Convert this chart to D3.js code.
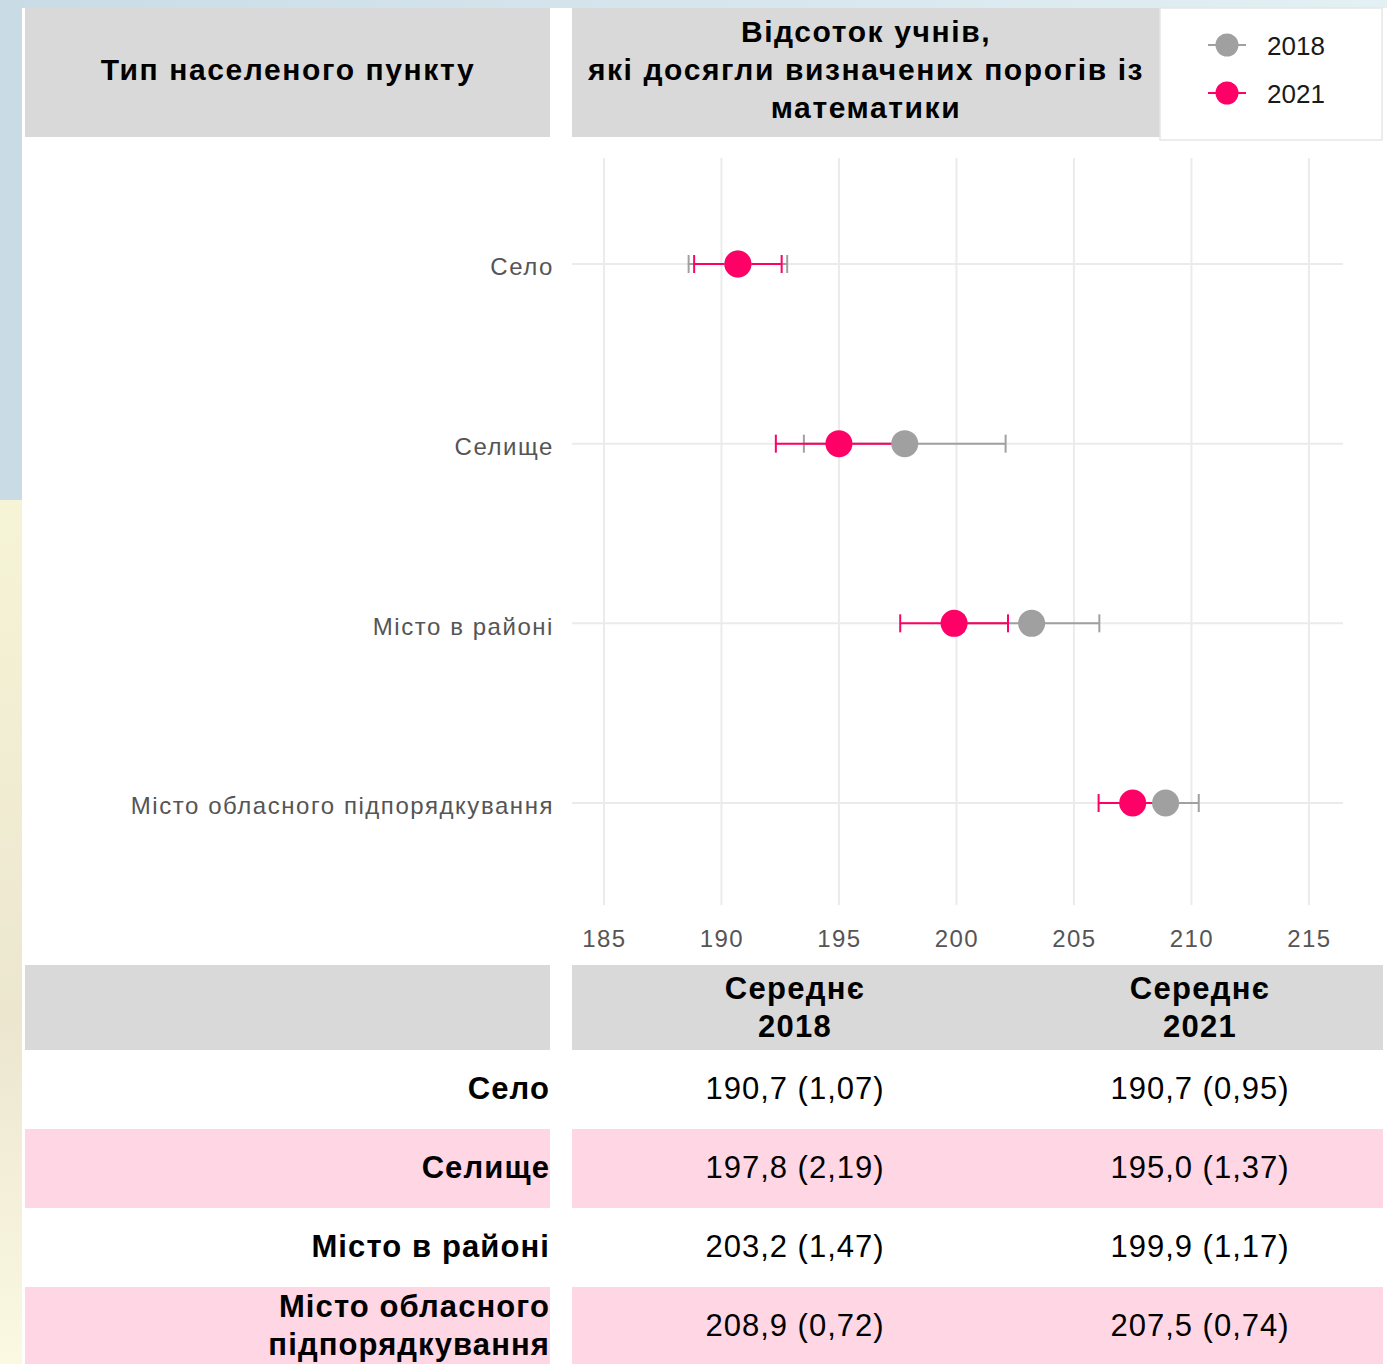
<!DOCTYPE html>
<html>
<head>
<meta charset="utf-8">
<script src="https://cdn.jsdelivr.net/npm/d3@7"></script>
<style>
  body { margin: 0; background: #fff; }
  svg { display: block; font-family: "Liberation Sans", Arial, sans-serif; }
</style>
</head>
<body>
<div id="chart"></div>
<script>
// data
const categories = ['Село', 'Селище', 'Місто в районі', 'Місто обласного підпорядкування'];
const tableLabels = [['Село'], ['Селище'], ['Місто в районі'], ['Місто обласного', 'підпорядкування']];
const years = ['2018', '2021'];
const mean2018 = [190.7, 197.8, 203.2, 208.9];
const se2018 = [1.07, 2.19, 1.47, 0.72];
const mean2021 = [190.7, 195.0, 199.9, 207.5];
const se2021 = [0.95, 1.37, 1.17, 0.74];
const xTicks = [185, 190, 195, 200, 205, 210, 215];

const width = 1387, height = 1364;
const colors = { '2018': '#a0a0a0', '2021': '#ff0066' };
const headGray = '#d9d9d9', rowPink = '#ffd6e4';

const svg = d3.select('#chart').append('svg')
    .attr('width', width)
    .attr('height', height);

// page background (slide look)
const defs = svg.append('defs');
const gTop = defs.append('linearGradient').attr('id', 'topGrad');
gTop.append('stop').attr('offset', '0%').attr('stop-color', '#c9dce6');
gTop.append('stop').attr('offset', '100%').attr('stop-color', '#e3f0f4');
const gLow = defs.append('linearGradient').attr('id', 'lowGrad')
    .attr('x1', 0).attr('x2', 0).attr('y1', 0).attr('y2', 1);
gLow.append('stop').attr('offset', '0%').attr('stop-color', '#f6f4d6');
gLow.append('stop').attr('offset', '60%').attr('stop-color', '#ece6cf');
gLow.append('stop').attr('offset', '100%').attr('stop-color', '#fbf9e2');

svg.append('rect').attr('width', width).attr('height', 8).attr('fill', 'url(#topGrad)');
svg.append('rect').attr('y', 0).attr('width', 22).attr('height', 500).attr('fill', '#c9dce6');
svg.append('rect').attr('y', 500).attr('width', 22).attr('height', height - 500).attr('fill', 'url(#lowGrad)');
svg.append('rect').attr('x', 22).attr('y', 8).attr('width', width - 22).attr('height', height - 8).attr('fill', '#fff');

// header boxes
svg.append('rect').attr('x', 25).attr('y', 8).attr('width', 525).attr('height', 129).attr('fill', headGray);
svg.append('rect').attr('x', 572).attr('y', 8).attr('width', 588).attr('height', 129).attr('fill', headGray);

svg.append('text')
    .attr('x', 288).attr('y', 80)
    .attr('text-anchor', 'middle')
    .attr('font-size', 30).attr('font-weight', 'bold')
    .attr('letter-spacing', 1.6)
    .text('Тип населеного пункту');

const headLines = ['Відсоток учнів,', 'які досягли визначених порогів із', 'математики'];
svg.append('text')
    .attr('text-anchor', 'middle')
    .attr('font-size', 30).attr('font-weight', 'bold')
    .attr('letter-spacing', 1.6)
    .selectAll('tspan')
    .data(headLines)
    .enter()
      .append('tspan')
      .attr('x', 866)
      .attr('y', (d, i) => 42 + i * 38)
      .text(d => d);

// legend
const legend = svg.append('g');
legend.append('rect')
    .attr('x', 1160).attr('y', 8).attr('width', 222).attr('height', 132)
    .attr('fill', '#fff').attr('stroke', '#e6e6e6').attr('stroke-width', 1.5);
const legItem = legend.selectAll('.leg')
    .data(years)
    .enter()
      .append('g')
      .attr('transform', (d, i) => 'translate(1227,' + (45 + i * 48) + ')');
legItem.append('line')
    .attr('x1', -19).attr('x2', 19)
    .attr('stroke', d => colors[d]).attr('stroke-width', 2);
legItem.append('circle')
    .attr('r', 11.5)
    .attr('fill', d => colors[d]);
legItem.append('text')
    .attr('x', 40).attr('y', 10)
    .attr('font-size', 26).attr('fill', '#1a1a1a')
    .text(d => d);

// dot plot
const xScale = d3.scaleLinear()
    .domain([183.64, 216.45])
    .range([572, 1343]);
const yScale = d3.scalePoint()
    .domain(categories)
    .range([158, 909])
    .padding(0.59);

const grid = svg.append('g');
grid.selectAll('.vgrid')
    .data(xTicks)
    .enter()
      .append('line')
      .attr('x1', d => xScale(d)).attr('x2', d => xScale(d))
      .attr('y1', 158).attr('y2', 905)
      .attr('stroke', '#ebebeb').attr('stroke-width', 2);
grid.selectAll('.hgrid')
    .data(categories)
    .enter()
      .append('line')
      .attr('x1', 572).attr('x2', 1343)
      .attr('y1', d => yScale(d)).attr('y2', d => yScale(d))
      .attr('stroke', '#ebebeb').attr('stroke-width', 2);

const xAxis = d3.axisBottom(xScale).tickValues(xTicks).tickSize(0).tickPadding(0);
svg.append('g')
    .attr('transform', 'translate(0,947)')
    .call(xAxis)
    .call(g => g.select('.domain').remove())
    .call(g => g.selectAll('text')
        .attr('font-size', 24).attr('fill', '#555')
        .attr('letter-spacing', 1.4)
        .attr('font-family', '"Liberation Sans", Arial, sans-serif')
        .attr('dy', 0));

const yAxis = d3.axisLeft(yScale).tickSize(0).tickPadding(0);
svg.append('g')
    .attr('transform', 'translate(554,3)')
    .call(yAxis)
    .call(g => g.select('.domain').remove())
    .call(g => g.selectAll('text')
        .attr('font-size', 24).attr('fill', '#555')
        .attr('letter-spacing', 1.55)
        .attr('font-family', '"Liberation Sans", Arial, sans-serif'));

const points = [];
years.forEach(y => {
    const m = y === '2018' ? mean2018 : mean2021;
    const s = y === '2018' ? se2018 : se2021;
    categories.forEach((c, i) => {
        points.push({ year: y, cat: c, mean: m[i], lo: m[i] - 1.96 * s[i], hi: m[i] + 1.96 * s[i] });
    });
});

const bars = svg.append('g').selectAll('.err')
    .data(points)
    .enter()
      .append('g')
      .attr('stroke', d => colors[d.year])
      .attr('stroke-width', 2);
bars.append('line')
    .attr('x1', d => xScale(d.lo)).attr('x2', d => xScale(d.hi))
    .attr('y1', d => yScale(d.cat)).attr('y2', d => yScale(d.cat));
bars.append('line')
    .attr('x1', d => xScale(d.lo)).attr('x2', d => xScale(d.lo))
    .attr('y1', d => yScale(d.cat) - 9).attr('y2', d => yScale(d.cat) + 9);
bars.append('line')
    .attr('x1', d => xScale(d.hi)).attr('x2', d => xScale(d.hi))
    .attr('y1', d => yScale(d.cat) - 9).attr('y2', d => yScale(d.cat) + 9);

svg.append('g').selectAll('.dot')
    .data(points)
    .enter()
      .append('circle')
      .attr('cx', d => xScale(d.mean))
      .attr('cy', d => yScale(d.cat))
      .attr('r', 13.5)
      .attr('fill', d => colors[d.year]);

// table below
const fmtMean = d3.format('.1f'), fmtSe = d3.format('.2f');
const comma = s => s.replace('.', ',');
const cell = (m, s) => comma(fmtMean(m)) + ' (' + comma(fmtSe(s)) + ')';

svg.append('rect').attr('x', 25).attr('y', 965).attr('width', 525).attr('height', 85).attr('fill', headGray);
svg.append('rect').attr('x', 572).attr('y', 965).attr('width', 811).attr('height', 85).attr('fill', headGray);

const colX = [795, 1200];
const colHead = svg.append('g')
    .attr('font-size', 31).attr('font-weight', 'bold')
    .attr('letter-spacing', 1.3)
    .attr('text-anchor', 'middle');
years.forEach((y, j) => {
    const t = colHead.append('text');
    t.append('tspan').attr('x', colX[j]).attr('y', 999).text('Середнє');
    t.append('tspan').attr('x', colX[j]).attr('y', 1037).text(y);
});

const rowTop = 1050, rowH = 79;
const rows = svg.append('g').selectAll('.row')
    .data(categories)
    .enter()
      .append('g')
      .attr('transform', (d, i) => 'translate(0,' + (rowTop + i * rowH) + ')');
rows.filter((d, i) => i % 2 === 1).append('rect')
    .attr('x', 25).attr('width', 525).attr('height', rowH).attr('fill', rowPink);
rows.filter((d, i) => i % 2 === 1).append('rect')
    .attr('x', 572).attr('width', 811).attr('height', rowH).attr('fill', rowPink);

rows.append('text')
    .attr('text-anchor', 'end')
    .attr('font-size', 31).attr('font-weight', 'bold')
    .attr('letter-spacing', 1.1)
    .selectAll('tspan')
    .data((d, i) => tableLabels[i].map((t, k, arr) => ({ t, k, n: arr.length })))
    .enter()
      .append('tspan')
      .attr('x', 550)
      .attr('y', d => d.n === 1 ? 49 : 30 + d.k * 38)
      .text(d => d.t);

rows.append('text')
    .attr('x', colX[0]).attr('y', 49)
    .attr('text-anchor', 'middle').attr('font-size', 31)
    .attr('letter-spacing', 1)
    .text((d, i) => cell(mean2018[i], se2018[i]));
rows.append('text')
    .attr('x', colX[1]).attr('y', 49)
    .attr('text-anchor', 'middle').attr('font-size', 31)
    .attr('letter-spacing', 1)
    .text((d, i) => cell(mean2021[i], se2021[i]));
</script>
</body>
</html>
